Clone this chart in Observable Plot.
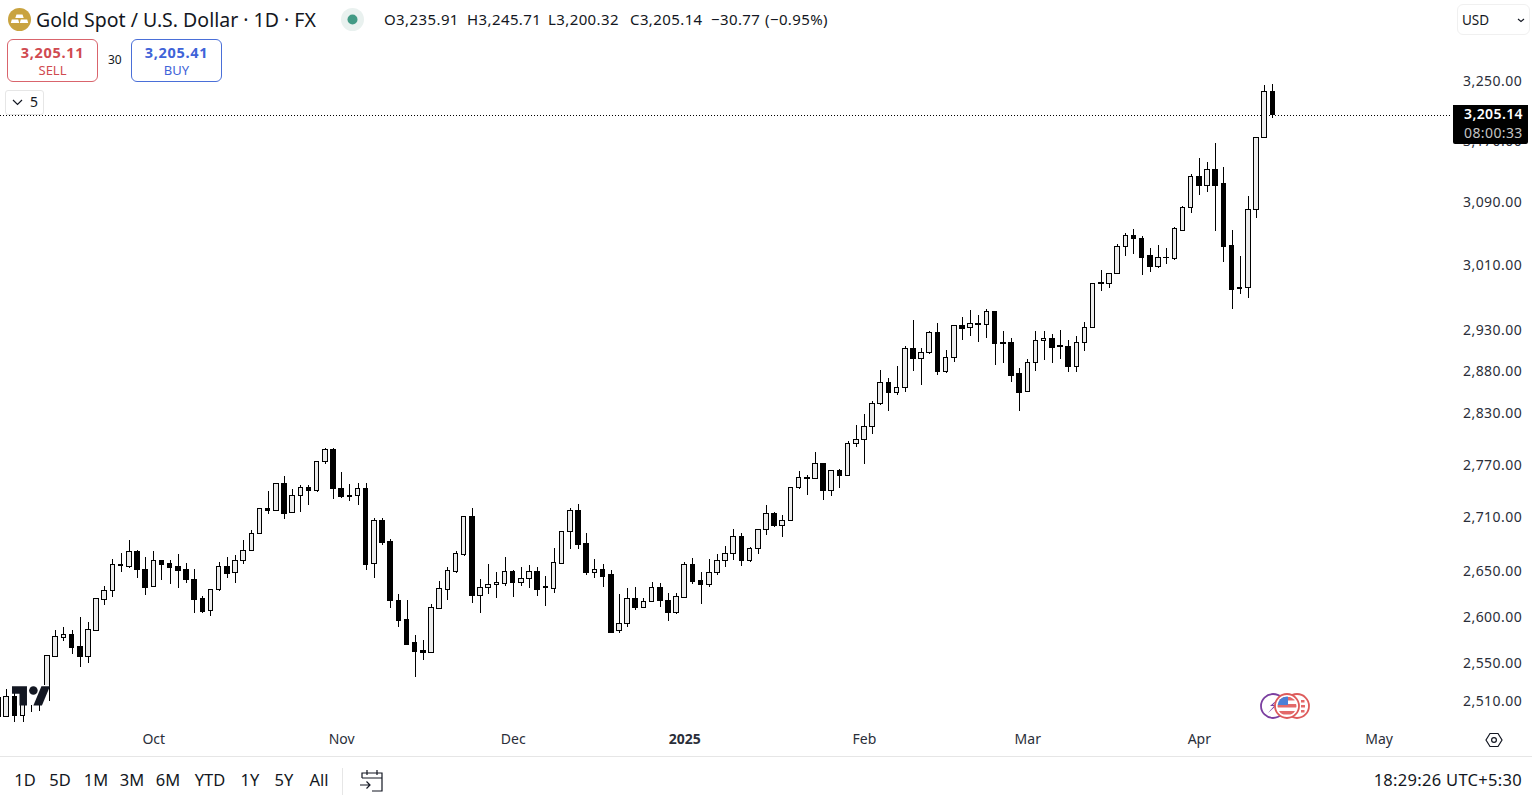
<!DOCTYPE html>
<html>
<head>
<meta charset="utf-8">
<script src="https://cdn.jsdelivr.net/npm/d3@7"></script>
<script src="https://cdn.jsdelivr.net/npm/@observablehq/plot@0.6"></script>
<style>
html,body{margin:0;padding:0;background:#fff;width:1532px;height:803px;overflow:hidden;}
body{font-family:"Noto Sans",sans-serif;color:#131722;position:relative;}
#chart{position:absolute;left:0;top:0;}
.a{position:absolute;white-space:nowrap;line-height:1;}
.btn{position:absolute;box-sizing:border-box;border-radius:6px;background:#fff;text-align:center;}
svg.i{position:absolute;overflow:visible;}
g[aria-label="y-axis tick label"] text{letter-spacing:.45px;}
</style>
</head>
<body>
<div id="chart"></div>
<script>
const opens = [
2494,2494,2515,2495,2506,2508,2511,2557,2578,2581,
2568,2557,2585,2619,2628,2656,2655,2671,2652,2633,
2662,2658,2655,2651,2641,2620,2607,2629,2655,2648,
2662,2673,2692,2720,2718,2748,2715,2735,2744,2740,
2774,2787,2743,2735,2735,2743,2658,2706,2683,2618,
2597,2572,2564,2561,2609,2630,2649,2668,2711,2623,
2632,2635,2636,2649,2637,2642,2649,2632,2631,2658,
2694,2717,2680,2648,2652,2646,2585,2593,2620,2610,
2616,2632,2618,2604,2621,2657,2639,2635,2648,2661,
2669,2688,2661,2675,2696,2714,2701,2706,2744,2755,
2754,2771,2740,2763,2758,2794,2799,2814,2841,2866,
2855,2860,2907,2895,2903,2927,2880,2897,2935,2933,
2938,2936,2952,2915,2915,2877,2856,2890,2917,2919,
2910,2910,2886,2915,2933,2987,2987,3000,3033,3047,
3044,3022,3008,3019,3018,3054,3083,3123,3112,3133,
3114,3035,2982,2982,3081,3175,3235.91];
const highs = [
2516,2523,2519,2511,2516,2522,2559,2586,2589,2586,
2600,2594,2620,2633,2663,2670,2684,2673,2665,2672,
2662,2662,2669,2659,2652,2622,2629,2660,2665,2668,
2684,2696,2720,2740,2748,2757,2742,2746,2746,2774,
2789,2789,2762,2748,2749,2749,2709,2709,2685,2625,
2618,2580,2575,2614,2639,2654,2672,2711,2720,2641,
2658,2649,2665,2651,2654,2657,2654,2644,2675,2694,
2720,2725,2692,2663,2658,2651,2625,2631,2632,2620,
2638,2637,2626,2626,2660,2664,2649,2663,2669,2678,
2697,2692,2677,2697,2724,2716,2712,2744,2763,2758,
2785,2772,2763,2765,2797,2816,2829,2844,2881,2872,
2886,2910,2942,2908,2929,2938,2905,2936,2946,2954,
2948,2956,2953,2929,2920,2884,2895,2928,2929,2925,
2930,2918,2922,2940,2987,3004,3000,3037,3051,3056,
3047,3032,3035,3031,3058,3085,3127,3147,3142,3167,
3136,3054,3022,3098,3175,3245,3245.71];
const lows = [
2493,2493,2488,2488,2499,2500,2511,2557,2574,2560,
2546,2550,2585,2613,2621,2649,2653,2642,2623,2632,
2640,2636,2631,2637,2604,2604,2601,2628,2642,2637,
2658,2672,2692,2714,2718,2708,2715,2716,2724,2739,
2771,2731,2732,2728,2724,2651,2642,2679,2609,2589,
2570,2535,2553,2561,2609,2618,2648,2666,2615,2604,
2625,2620,2633,2621,2633,2631,2622,2612,2626,2658,
2674,2674,2646,2642,2632,2582,2582,2589,2607,2610,
2616,2610,2595,2603,2621,2636,2614,2632,2646,2654,
2662,2655,2660,2669,2690,2699,2688,2706,2742,2735,
2754,2729,2734,2743,2758,2790,2771,2806,2840,2833,
2851,2855,2880,2863,2901,2875,2878,2891,2918,2923,
2915,2920,2887,2890,2867,2832,2856,2880,2893,2890,
2895,2879,2879,2904,2933,2978,2982,2999,3022,3024,
2998,3001,3006,3011,3017,3053,3076,3099,3103,3053,
3014,2956,2974,2969,3070,3175,3200.32];
const closes = [
2514,2515,2495,2506,2514,2516,2558,2579,2581,2567,
2557,2586,2620,2628,2657,2657,2671,2651,2632,2662,
2657,2654,2650,2640,2619,2606,2629,2655,2647,2662,
2673,2692,2720,2717,2748,2714,2735,2744,2740,2774,
2787,2742,2733,2733,2743,2657,2706,2682,2617,2596,
2570,2563,2561,2610,2631,2650,2669,2711,2623,2632,
2635,2637,2649,2637,2642,2649,2630,2633,2659,2694,
2717,2679,2648,2652,2644,2583,2593,2620,2610,2616,
2632,2617,2604,2622,2657,2638,2635,2648,2661,2669,
2688,2661,2675,2696,2714,2701,2706,2744,2755,2754,
2771,2740,2763,2757,2794,2799,2814,2841,2866,2855,
2860,2907,2895,2903,2927,2880,2897,2935,2932,2938,
2936,2952,2913,2913,2875,2855,2890,2917,2919,2909,
2911,2886,2915,2933,2987,2988,3000,3033,3047,3043,
3020,3008,3019,3020,3056,3083,3123,3111,3133,3112,
3034,2980,2981,3081,3175,3236,3205.14];
const priceTicks = [2510,2550,2600,2650,2710,2770,2830,2880,2930,3010,3090,3170,3250];
const timeTickIndex = [19,42,63,84,106,126,147,169];
const timeTickLabels = ["Oct","Nov","Dec","2025","Feb","Mar","Apr","May"];
const lastPrice = [3205.14];
const ohlcLabels = [["O3,235.91",384],["H3,245.71",467],["L3,200.32",548],["C3,205.14",630],["−30.77",711],["(−0.95%)",765]];

const candles = opens.map((o,i)=>({i,open:o,high:highs[i],low:lows[i],close:closes[i]}));
const font = '"Noto Sans",sans-serif';
const chart = Plot.plot({
  width:1532, height:757,
  marginLeft:0, marginRight:82, marginTop:0, marginBottom:29,
  style:{fontFamily:font, background:"transparent", overflow:"visible"},
  x:{type:"linear", domain:[0.2326,177.75]},
  y:{type:"log", domain:[2482.1,3361.6]},
  marks:[
    Plot.ruleY(lastPrice,{y:d=>d, dy:1, stroke:"#000", strokeWidth:1, strokeDasharray:"1,2", shapeRendering:"crispEdges"}),
    Plot.ruleX(candles,{x:"i", y1:"low", y2:"high", stroke:"#000", strokeWidth:1, shapeRendering:"crispEdges", clip:true}),
    Plot.rect(candles,{x1:d=>d.i-0.28, x2:d=>d.i+0.28, y1:"open", y2:"close",
      fill:d=>d.close>=d.open?"#ececec":"#000", stroke:"#000", strokeWidth:1, shapeRendering:"crispEdges", clip:true}),
    Plot.axisY({anchor:"right", ticks:priceTicks, tickSize:0, tickPadding:12.5, tickFormat:d3.format(",.2f"), label:null, fontSize:14, fill:"#2a2e39"}),
    Plot.axisX({anchor:"bottom", ticks:timeTickIndex, tickSize:0, tickPadding:6,
      tickFormat:d=>timeTickLabels[timeTickIndex.indexOf(d)], label:null, fontSize:14, fill:"#2a2e39"})
  ]
});
document.getElementById("chart").appendChild(chart);
chart.querySelectorAll("text").forEach(t=>{ if(t.textContent==="2025"){t.setAttribute("font-weight","700");} });

function add(html){ document.body.insertAdjacentHTML("beforeend",html); }
// TradingView mark
add(`<div style="position:absolute;left:27px;top:685px;width:21.5px;height:20px;background:#fff"></div>`);
add(`<svg class="i" style="left:12px;top:681.7px" width="38.5" height="30" viewBox="0 0 36 28"><g fill="#131722"><path d="M14 22H7V11H0V4h14v18z"/><path d="M28 22h-8l7.5-18h8L28 22z"/><circle cx="20" cy="8" r="4"/></g></svg>`);
// Header
add(`<svg class="i" style="left:8px;top:8px" width="23" height="23" viewBox="0 0 23 23"><circle cx="11.5" cy="11.5" r="11.5" fill="#c9a33f"/><path d="M8.5 6.5h6l1.2 3.5H7.3zM3.8 11.5h6.4l1 3.6H2.8zM12.8 11.5h6.4l1 3.6h-8.4z" fill="#fff"/></svg>`);
add(`<div class="a" style="left:36px;top:10px;font-size:19.5px">Gold Spot / U.S. Dollar · 1D · FX</div>`);
add(`<svg class="i" style="left:341px;top:8px" width="23" height="23"><circle cx="11.5" cy="11.5" r="11.5" fill="#e9f1ef"/><circle cx="11.5" cy="11.5" r="5" fill="#429a85"/></svg>`);
ohlcLabels.forEach(([t,x])=>add(`<div class="a" style="left:${x}px;top:12px;font-size:15px;letter-spacing:.4px;color:#131722">${t}</div>`));
// Buy / sell
add(`<div class="btn" style="left:7px;top:39px;width:91px;height:43px;border:1px solid #d9646c;color:#d04a50"><div style="font-size:14.5px;font-weight:700;letter-spacing:.7px;margin-top:2px;line-height:20px">3,205.11</div><div style="font-size:13px;line-height:16px">SELL</div></div>`);
add(`<div class="a" style="left:108px;top:54px;font-size:12px">30</div>`);
add(`<div class="btn" style="left:131px;top:39px;width:91px;height:43px;border:1px solid #4a6fd8;color:#3f63d8"><div style="font-size:14.5px;font-weight:700;letter-spacing:.7px;margin-top:2px;line-height:20px">3,205.41</div><div style="font-size:13px;line-height:16px">BUY</div></div>`);
add(`<div class="btn" style="left:5px;top:90px;width:39px;height:25px;border:1px solid #e6e6e6;border-radius:3px"></div>`);
add(`<svg class="i" style="left:12px;top:99px" width="11" height="7"><path d="M1 1l4.5 4.5L10 1" fill="none" stroke="#131722" stroke-width="1.2"/></svg>`);
add(`<div class="a" style="left:30px;top:95px;font-size:14px">5</div>`);
add(`<div class="btn" style="left:1457px;top:4px;width:73px;height:31px;border:1px solid #f0f0f0"></div>`);
add(`<div class="a" style="left:1462px;top:14px;font-size:13.5px">USD</div>`);
add(`<svg class="i" style="left:1517px;top:18px" width="8" height="5"><path d="M1 1l3 2.5L7 1" fill="none" stroke="#131722" stroke-width="1.1"/></svg>`);
// Price label
add(`<div style="position:absolute;left:1453px;top:105px;width:75px;height:39px;background:#000;border-radius:0 0 2px 2px"></div>`);
add(`<div class="a" style="left:1464px;top:107px;font-size:14px;font-weight:600;letter-spacing:.4px;color:#fff">3,205.14</div>`);
add(`<div class="a" style="left:1464px;top:126px;font-size:14px;letter-spacing:.4px;color:#c4c4c4">08:00:33</div>`);
// News icons
add(`<svg class="i" style="left:1258px;top:691px" width="54" height="30" viewBox="0 0 54 30"><circle cx="15" cy="15" r="12" fill="#fff" stroke="#7b3fa0" stroke-width="1.8"/><path d="M20 8l-8 7h4l-6 7 9-8h-4z" fill="#7b3fa0"/><circle cx="39" cy="15" r="12" fill="#fff" stroke="#dd5b5b" stroke-width="1.8"/><circle cx="29" cy="15" r="12" fill="#fff" stroke="#dd5b5b" stroke-width="1.8"/><clipPath id="cf"><circle cx="29" cy="15" r="9.5"/></clipPath><g clip-path="url(#cf)"><path d="M19 6h20v3.5H19zM19 13h20v3.5H19zM19 20h20v3.5H19z" fill="#e36a6a"/><rect x="19" y="5" width="11" height="9" fill="#4b7fd6"/></g><g fill="#e36a6a"><rect x="43" y="9" width="3.5" height="2.5"/><rect x="43" y="14" width="4" height="2.5"/><rect x="43" y="19" width="3.5" height="2.5"/></g></svg>`);
// Settings hexagon
add(`<svg class="i" style="left:1485px;top:731px" width="18" height="18" viewBox="0 0 18 18"><path d="M5 2.5h8L17 9l-4 6.5H5L1 9z" fill="none" stroke="#131722" stroke-width="1.2"/><circle cx="9" cy="9" r="2.4" fill="none" stroke="#131722" stroke-width="1.2"/></svg>`);
// Footer
add(`<div style="position:absolute;left:0;top:756px;width:1532px;height:1px;background:#e6e6e6"></div>`);
const rangeLabels=[["1D",25],["5D",60],["1M",96],["3M",132],["6M",168],["YTD",210],["1Y",250],["5Y",284],["All",319]];
rangeLabels.forEach(([t,x])=>add(`<div class="a" style="left:${x-30}px;width:60px;text-align:center;top:772px;font-size:16.5px">${t}</div>`));
add(`<div style="position:absolute;left:342px;top:768px;width:1px;height:27px;background:#e6e6e6"></div>`);
add(`<svg class="i" style="left:359px;top:768px" width="26" height="25" viewBox="0 0 26 25"><path d="M3 10V5h20v18h-10M3 10h20M8 2v5M18 2v5" fill="none" stroke="#131722" stroke-width="1.2"/><path d="M1 17h10M7.5 13.5L11 17l-3.5 3.5" fill="none" stroke="#131722" stroke-width="1.2"/></svg>`);
add(`<div class="a" style="right:10px;top:772px;font-size:16.5px;letter-spacing:.3px">18:29:26 UTC+5:30</div>`);
</script>
</body>
</html>
